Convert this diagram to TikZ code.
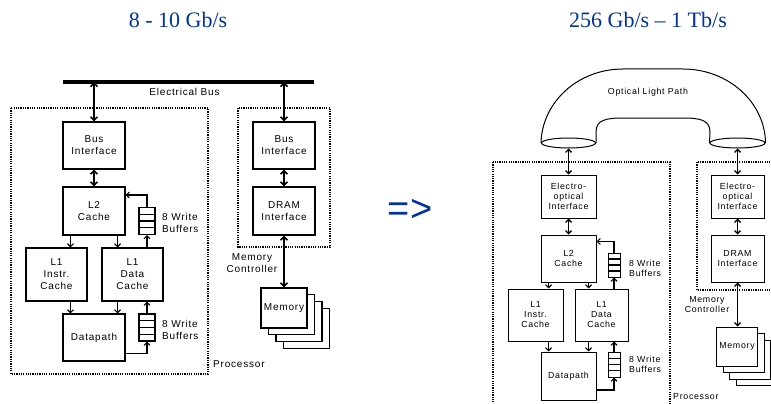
\documentclass[tikz,border=0pt]{standalone}
\usepackage{fontspec}
\setmainfont{Liberation Serif}
\newfontfamily\figfont[LetterSpace=8]{Liberation Sans}
\newfontfamily\arrfont{Liberation Sans}
\usetikzlibrary{arrows.meta,shapes.geometric,calc}
\definecolor{slideblue}{RGB}{0,51,160}

\tikzset{
  blk/.style={draw, line width=1.1pt, fill=white, align=center, inner sep=0pt,
    font=\figfont\fontsize{10}{12}\selectfont},
  sblk/.style={blk, line width=1pt, font=\figfont\fontsize{8.8}{10}\selectfont},
  wbuf/.style={draw, line width=1.1pt, fill=white, inner sep=0pt,
    path picture={\foreach \f in {0.25,0.5,0.75}
      \draw[line width=1.1pt] ($(path picture bounding box.north west)!\f!(path picture bounding box.south west)$)
        -- ($(path picture bounding box.north east)!\f!(path picture bounding box.south east)$);}},
  dotbox/.style={line width=1.8pt, dash pattern=on 1.2pt off 1.1pt},
  link/.style={line width=1.6pt, {Straight Barb[length=3.5pt,width=7pt]}-{Straight Barb[length=3.5pt,width=7pt]}},
  slink/.style={line width=1.4pt, {Straight Barb[length=3pt,width=6pt]}-{Straight Barb[length=3pt,width=6pt]}},
  feed/.style={line width=1.1pt, -{Straight Barb[length=3pt,width=6pt]}},
  lbl/.style={font=\figfont\fontsize{10}{12}\selectfont, inner sep=0pt},
  slbl/.style={font=\figfont\fontsize{8.8}{10}\selectfont, inner sep=0pt},
  ttl/.style={font=\fontsize{22}{24}\selectfont, text=slideblue, inner sep=0pt},
}

\begin{document}
\begin{tikzpicture}[x=1pt,y=-1pt]
  \clip (0,0) rectangle (771,404);

  \node[ttl] (rateA) at (178,20) {8 - 10 Gb/s};
  \node[ttl] (rateB) at (648,20) {256 Gb/s -- 1 Tb/s};
  \node[font=\arrfont\fontsize{38}{40}\selectfont, text=slideblue, inner sep=0pt] (becomes) at (410,210) {=>};

  % electrical system
  \draw[line width=3pt] (63,82) -- (314,82);
  \coordinate (tapA) at (94,82);
  \coordinate (tapB) at (284,82);
  \node[lbl] (ebus) at (184.5,92) {Electrical Bus};

  \draw[dotbox] (11,108) rectangle (208,374);
  \draw[dotbox] (238,108) rectangle (330,247);

  \node[blk, minimum width=62, minimum height=47] (bif) at (94,145.5) {Bus\\Interface};
  \node[blk, minimum width=62, minimum height=48] (l2) at (94,211) {L2\\Cache};
  \node[blk, minimum width=61, minimum height=53] (l1i) at (56.5,274.5) {L1\\Instr.\\Cache};
  \node[blk, minimum width=61, minimum height=53] (l1d) at (132.5,274.5) {L1\\Data\\Cache};
  \node[blk, minimum width=62, minimum height=47] (dp) at (94,337.5) {Datapath};
  \node[wbuf, minimum width=16, minimum height=27] (bufA) at (147,221) {};
  \node[wbuf, minimum width=16, minimum height=27] (bufB) at (147,327.5) {};

  \node[blk, minimum width=62, minimum height=47] (mbif) at (284,145.5) {Bus\\Interface};
  \node[blk, minimum width=62, minimum height=48] (dram) at (284,211) {DRAM\\Interface};
  \foreach \k in {3,2,1}
    \node[blk, minimum width=46, minimum height=40] (mem\k) at ({284+7.5*\k},{308+6.7*\k}) {};
  \node[blk, minimum width=46, minimum height=40] (mem) at (284,308) {Memory};

  \draw[link] (tapA) -- (bif.north);
  \draw[link] (tapB) -- (mbif.north);
  \draw[link] (bif) -- (l2);
  \draw[link] (mbif) -- (dram);
  \draw[link] (dram) -- (mem);

  \coordinate (ca) at ([xshift=8pt]l2.south west);
  \coordinate (cb) at ([xshift=-8pt]l2.south east);
  \draw[feed] (ca) -- (ca |- l1i.north);
  \draw[feed] (cb) -- (cb |- l1d.north);
  \draw[feed] (ca |- l1i.south) -- (ca |- dp.north);
  \draw[feed] (cb |- l1d.south) -- (cb |- dp.north);
  \draw[feed] (bufA |- l1d.north) -- (bufA.south);
  \draw[feed] (bufA.north) |- ([yshift=16pt]l2.east);
  \draw[feed] (bufB.north) -- (bufB |- l1d.south);
  \draw[feed] ([yshift=-16pt]dp.east) -| (bufB.south);

  \node[lbl, align=left, anchor=west] (wbA) at (162,223) {8 Write\\Buffers};
  \node[lbl, align=left, anchor=west] (wbB) at (162,330) {8 Write\\Buffers};
  \node[lbl, anchor=west] (procA) at (213,364) {Processor};
  \node[lbl, align=center] (mcA) at (252,263.5) {Memory\\Controller};

  % optical system
  \node[draw, ellipse, line width=1pt, minimum width=54, minimum height=10, inner sep=0pt] (portL) at (568.5,143) {};
  \node[draw, ellipse, line width=1pt, minimum width=55, minimum height=10, inner sep=0pt] (portR) at (737.5,143) {};
  \draw[line width=1pt] (portL.west) .. controls (542,102) and (578,69) .. (623,69) -- (683,69)
    .. controls (728,69) and (765,102) .. (portR.east);
  \draw[line width=1pt] (portL.east) -- (596,132) .. controls (596,120) and (606,118) .. (623,118) -- (683,118)
    .. controls (700,118) and (710,120) .. (710,132) -- (portR.west);
  \node[slbl] (olp) at (648,92) {Optical Light Path};

  \draw[dotbox] (493,162) rectangle (670,420);
  \draw[dotbox] (697,162) rectangle (800,290);

  \node[sblk, minimum width=55, minimum height=43] (eo) at (568.5,196.5) {Electro-\\optical\\Interface};
  \node[sblk, minimum width=55, minimum height=47] (l2r) at (568.5,258.5) {L2\\Cache};
  \node[sblk, minimum width=55, minimum height=52] (l1ir) at (535.5,315) {L1\\Instr.\\Cache};
  \node[sblk, minimum width=53, minimum height=52] (l1dr) at (601.5,315) {L1\\Data\\Cache};
  \node[sblk, minimum width=55, minimum height=48] (dpr) at (568.5,376) {Datapath};
  \node[wbuf, line width=1pt, minimum width=12, minimum height=24] (bufC) at (614,265) {};
  \node[wbuf, line width=1pt, minimum width=12, minimum height=25] (bufD) at (614,364.5) {};

  \node[sblk, minimum width=53, minimum height=43] (eor) at (737.5,196.5) {Electro-\\optical\\Interface};
  \node[sblk, minimum width=53, minimum height=47] (dramr) at (737.5,258.5) {DRAM\\Interface};
  \foreach \k in {3,2,1}
    \node[sblk, minimum width=41, minimum height=39] (memr\k) at ({737+6.5*\k},{346.5+6.5*\k}) {};
  \node[sblk, minimum width=41, minimum height=39] (memr) at (737,346.5) {Memory};

  \draw[slink] (portL.south) -- (eo.north);
  \draw[slink] (portR.south) -- (eor.north);
  \draw[slink] (eo) -- (l2r);
  \draw[slink] (eor) -- (dramr);
  \draw[slink] (dramr.south) -- (dramr.south |- memr.north);

  \coordinate (cc) at ([xshift=8pt]l2r.south west);
  \coordinate (cd) at ([xshift=-8pt]l2r.south east);
  \draw[feed] (cc) -- (cc |- l1ir.north);
  \draw[feed] (cd) -- (cd |- l1dr.north);
  \draw[feed] (cc |- l1ir.south) -- (cc |- dpr.north);
  \draw[feed] (cd |- l1dr.south) -- (cd |- dpr.north);
  \draw[feed] (bufC |- l1dr.north) -- (bufC.south);
  \draw[feed] (bufC.north) |- ([yshift=17pt]l2r.east);
  \draw[feed] (bufD.north) -- (bufD |- l1dr.south);
  \draw[feed] ([yshift=-14pt]dpr.east) -| (bufD.south);

  \node[slbl, align=left, anchor=west] (wbC) at (629,268) {8 Write\\Buffers};
  \node[slbl, align=left, anchor=west] (wbD) at (629,364) {8 Write\\Buffers};
  \node[slbl, anchor=west] (procB) at (673,397) {Processor};
  \node[slbl, align=center] (mcB) at (707,304.5) {Memory\\Controller};
\end{tikzpicture}
\end{document}
